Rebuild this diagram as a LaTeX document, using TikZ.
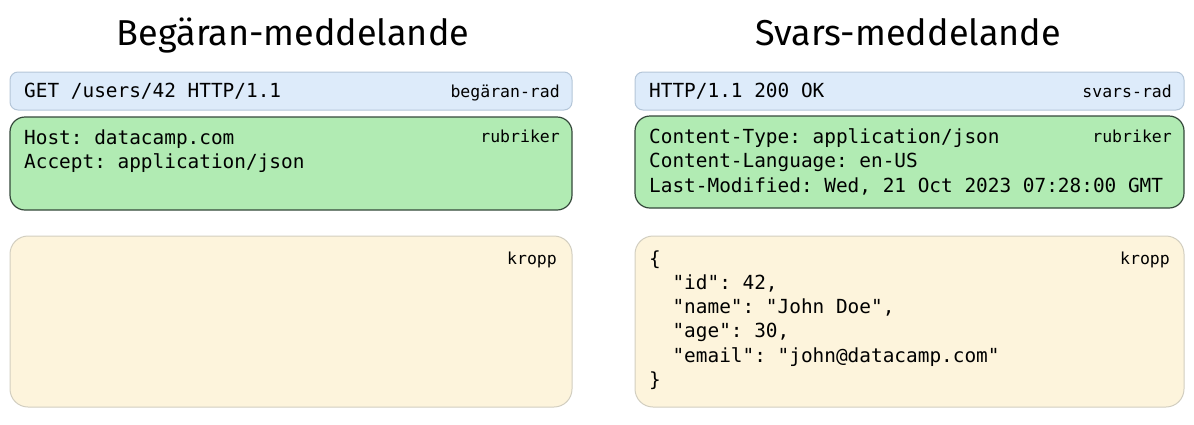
\documentclass[tikz,border=0pt]{standalone}
\usepackage{fontspec}
\setmonofont{DejaVu Sans Mono}
\newfontfamily\rubrikfont{Fira Sans}
\usetikzlibrary{positioning}

\definecolor{radfill}{HTML}{DDEBFA}
\definecolor{radline}{HTML}{B4C6D8}
\definecolor{rubfill}{HTML}{B1EBB3}
\definecolor{rubline}{HTML}{34483A}
\definecolor{kroppfill}{HTML}{FDF4DC}
\definecolor{kroppline}{HTML}{D2CEC0}

\tikzset{
  radbox/.style={draw=radline, fill=radfill, line width=1pt, rounded corners=8pt, inner sep=0pt},
  rubbox/.style={draw=rubline, fill=rubfill, line width=1.2pt, rounded corners=15pt, inner sep=0pt},
  kroppbox/.style={draw=kroppline, fill=kroppfill, line width=1pt, rounded corners=18pt, inner sep=0pt},
  kod/.style={font=\ttfamily\fontsize{19.4}{24}\selectfont, inner sep=0pt, anchor=base west},
  etikett/.style={font=\ttfamily\fontsize{16.5}{20}\selectfont, inner sep=0pt, anchor=base east},
  rubrik/.style={font=\rubrikfont\fontsize{36}{40}\selectfont, inner sep=0pt, anchor=base}
}
\newcommand{\ind}{\phantom{xx}}

\begin{document}
\begin{tikzpicture}[x=1pt,y=-1pt]
  \useasboundingbox (0,0) rectangle (1194,424);

  % rubriker
  \node[rubrik] (reqtitel) at (293,45) {Begäran-meddelande};
  \node[rubrik] (svartitel) at (908,45) {Svars-meddelande};

  % begäran (vänster)
  \node[radbox, minimum width=562pt, minimum height=38pt] (reqrad) at (291,91) {};
  \node[rubbox, minimum width=562pt, minimum height=93pt] (reqrub) at (291,163.5) {};
  \node[kroppbox, minimum width=562pt, minimum height=171pt] (reqkropp) at (291,321.5) {};

  \node[kod] (reqradtext) at (24,97) {GET /users/42 HTTP/1.1};
  \node[etikett] (reqradlabel) at (560,97) {begäran-rad};
  \foreach \rad [count=\i from 0] in {{Host: datacamp.com},{Accept: application/json}}
    \node[kod] (reqrub\i) at (24,144+24*\i) {\rad};
  \node[etikett] (reqrublabel) at (560,142) {rubriker};
  \node[etikett] (reqkropplabel) at (557,264) {kropp};

  % svar (höger)
  \node[radbox, minimum width=549pt, minimum height=38pt] (svarrad) at (909.5,91) {};
  \node[rubbox, minimum width=549pt, minimum height=92pt] (svarrub) at (909.5,162) {};
  \node[kroppbox, minimum width=549pt, minimum height=171pt] (svarkropp) at (909.5,321.5) {};

  \node[kod] (svarradtext) at (649,97) {HTTP/1.1 200 OK};
  \node[etikett] (svarradlabel) at (1172,97) {svars-rad};
  \foreach \rad [count=\i from 0] in {{Content-Type: application/json},{Content-Language: en-US},
      {Last-Modified: Wed, 21 Oct 2023 07:28:00 GMT}}
    \node[kod] (svarrub\i) at (649,143+24.5*\i) {\rad};
  \node[etikett] (svarrublabel) at (1172,142) {rubriker};
  \foreach \rad [count=\i from 0] in {\{,{\ind"id": 42,},{\ind"name": "John Doe",},{\ind"age": 30,},
      {\ind"email": "john@datacamp.com"},\}}
    \node[kod] (svarkropp\i) at (649,265+24.3*\i) {\rad};
  \node[etikett] (svarkropplabel) at (1170,264) {kropp};
\end{tikzpicture}
\end{document}
